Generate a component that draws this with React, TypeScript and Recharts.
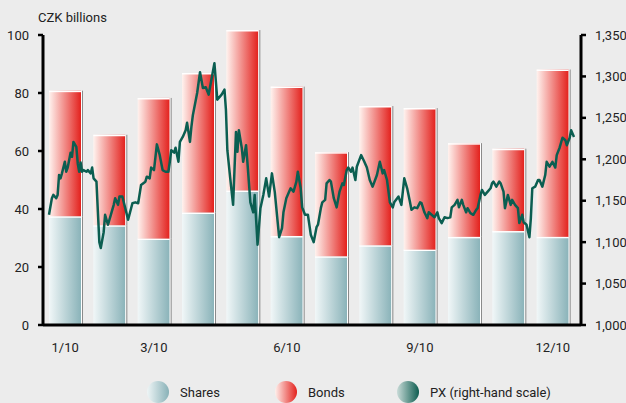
import React from "react";
import { ComposedChart, Bar, Line, XAxis, YAxis } from "recharts";

const months = ["1/10", "2/10", "3/10", "4/10", "5/10", "6/10", "7/10", "8/10", "9/10", "10/10", "11/10", "12/10"];
const labelledMonths = ["1/10", "3/10", "6/10", "9/10", "12/10"];
const shares = [37.5, 34.4, 29.8, 38.8, 46.4, 30.7, 23.7, 27.5, 26.0, 30.4, 32.4, 30.4];
const bonds = [43.3, 31.2, 48.5, 48.1, 55.3, 51.5, 35.9, 48.0, 48.8, 32.3, 28.4, 57.7];

const leftTicks = [0, 20, 40, 60, 80, 100];
const rightTicks = [1000, 1050, 1100, 1150, 1200, 1250, 1300, 1350];

// PX index, day of year -> level
const pxDays = [
  0, 2, 3, 5, 6, 7, 8, 9, 11, 12, 13, 15, 16, 17, 19, 20, 21, 22, 23, 24, 26, 27, 29, 30, 31, 33, 34, 35, 36, 38,
  39, 41, 43, 45, 46, 48, 49, 51, 53, 55, 58, 60, 62, 64, 67, 68, 70, 71, 73, 75, 77, 79, 81, 83, 84, 85, 87, 88,
  90, 91, 93, 95, 96, 98, 99, 100, 103, 105, 107, 109, 111, 115, 117, 120, 122, 123, 124, 126, 128, 130, 131, 132,
  134, 135, 137, 138, 140, 142, 143, 145, 147, 149, 151, 153, 154, 155, 157, 159, 160, 162, 163, 165, 167, 168,
  170, 172, 173, 175, 176, 178, 180, 182, 184, 186, 187, 189, 190, 192, 193, 195, 196, 198, 200, 202, 204, 205,
  207, 208, 210, 211, 213, 214, 217, 219, 221, 223, 225, 228, 230, 232, 233, 235, 237, 239, 240, 243, 245, 247,
  249, 251, 252, 254, 256, 258, 259, 261, 263, 264, 266, 268, 270, 271, 273, 275, 277, 279, 280, 282, 284, 285,
  287, 288, 290, 291, 293, 295, 297, 298, 300, 301, 303, 305, 307, 308, 309, 311, 313, 314, 316, 317, 319, 321,
  322, 324, 326, 327, 329, 330, 332, 334, 335, 336, 338, 340, 341, 343, 345, 346, 348, 350, 352, 353, 355, 357,
  359, 360, 362, 363, 365,
];
const pxValues = [
  1133, 1153, 1157, 1153, 1157, 1181, 1177, 1183, 1197, 1185, 1190, 1208, 1203, 1221, 1215, 1195, 1185, 1196, 1185,
  1187, 1185, 1187, 1183, 1190, 1177, 1173, 1136, 1100, 1093, 1112, 1133, 1121, 1133, 1145, 1153, 1145, 1155, 1155,
  1141, 1127, 1147, 1148, 1147, 1169, 1173, 1179, 1177, 1190, 1187, 1218, 1205, 1187, 1185, 1185, 1197, 1211, 1208,
  1214, 1197, 1221, 1227, 1235, 1244, 1221, 1239, 1253, 1280, 1305, 1286, 1287, 1278, 1316, 1272, 1278, 1284, 1260,
  1211, 1177, 1145, 1233, 1209, 1235, 1214, 1197, 1217, 1195, 1148, 1136, 1157, 1097, 1141, 1157, 1177, 1155, 1169,
  1183, 1160, 1124, 1106, 1117, 1136, 1153, 1161, 1165, 1161, 1173, 1185, 1165, 1142, 1133, 1133, 1109, 1100, 1118,
  1121, 1141, 1148, 1151, 1171, 1175, 1173, 1153, 1142, 1161, 1171, 1169, 1187, 1190, 1185, 1190, 1175, 1191, 1205,
  1198, 1190, 1175, 1167, 1181, 1197, 1183, 1187, 1175, 1148, 1142, 1148, 1155, 1145, 1177, 1165, 1148, 1139, 1142,
  1141, 1148, 1147, 1136, 1129, 1136, 1133, 1130, 1136, 1129, 1123, 1130, 1129, 1130, 1142, 1145, 1151, 1142, 1151,
  1145, 1136, 1141, 1135, 1133, 1139, 1141, 1157, 1163, 1157, 1161, 1165, 1171, 1173, 1167, 1173, 1171, 1161, 1141,
  1157, 1145, 1151, 1145, 1141, 1123, 1133, 1124, 1121, 1106, 1129, 1165, 1167, 1175, 1175, 1167, 1181, 1197, 1191,
  1197, 1190, 1205, 1214, 1226, 1223, 1217, 1226, 1235, 1227,
];

// bonds sit on top of shares: drawn as a [from, to] range bar so the May bar can go past 100
const barData = months.map((m, i) => ({
  month: m,
  shares: shares[i],
  bonds: [shares[i], shares[i] + bonds[i]],
}));
const pxData = pxDays.map((d, i) => ({ day: d, px: pxValues[i] }));

const FONT = "Roboto, 'Open Sans', sans-serif";
const LINE = "#0b5e51";

const barShape = (gradId: string) => (props: any) => {
  const { x, y, width, height } = props;
  if (!height || height <= 0) return <g />;
  return (
    <g>
      <rect x={x} y={y} width={width} height={height} fill={`url(#${gradId})`} />
      <line x1={x} x2={x + width} y1={y + 0.75} y2={y + 0.75} stroke="#fff" strokeWidth={1.5} />
      <line x1={x + width + 0.5} x2={x + width + 0.5} y1={y} y2={y + height} stroke="#fff" strokeWidth={1} />
      <line x1={x + width + 1.5} x2={x + width + 1.5} y1={y} y2={y + height} stroke="#8a8a8a" strokeWidth={1} />
    </g>
  );
};

function LegendItem({ grad, label, left }: { grad: string; label: string; left: number }) {
  return (
    <div style={{ position: "absolute", left, top: 381, display: "flex", alignItems: "center" }}>
      <div style={{ width: 22, height: 22, borderRadius: 11, background: grad }} />
      <span style={{ marginLeft: 11, fontSize: 13, color: "#222" }}>{label}</span>
    </div>
  );
}

export default function App() {
  return (
    <div
      style={{
        position: "fixed",
        left: 0,
        top: 0,
        width: 626,
        height: 403,
        background: "#ececec",
        overflow: "hidden",
        fontFamily: FONT,
      }}
    >
      <style>{`.recharts-wrapper svg g[clip-path] { clip-path: none !important; }`}</style>
      <div style={{ position: "absolute", left: 38, top: 10, fontSize: 13, color: "#222" }}>CZK billions</div>
      <ComposedChart width={626} height={403} data={barData} margin={{ top: 35, right: 0, bottom: 48, left: 0 }}>
        <defs>
          <linearGradient id="gShares" x1="0" y1="0" x2="1" y2="0">
            <stop offset="0%" stopColor="#f1f7f8" />
            <stop offset="100%" stopColor="#8ab3b9" />
          </linearGradient>
          <linearGradient id="gBonds" x1="0" y1="0" x2="1" y2="0">
            <stop offset="0%" stopColor="#fff3ef" />
            <stop offset="100%" stopColor="#e3211d" />
          </linearGradient>
        </defs>
        <XAxis
          xAxisId="month"
          dataKey="month"
          interval={0}
          padding={{ left: 0, right: 6 }}
          axisLine={{ stroke: "#000", strokeWidth: 3 }}
          tickLine={false}
          tickSize={6}
          tickMargin={12}
          height={30}
          tick={{ fill: "#222", fontSize: 13, fontFamily: FONT }}
          tickFormatter={(v: string) => (labelledMonths.includes(v) ? v : "")}
        />
        <XAxis xAxisId="month2" dataKey="month" hide orientation="top" height={0} padding={{ left: 0, right: 6 }} />
        <XAxis
          xAxisId="day"
          type="number"
          dataKey="day"
          domain={[0, 365]}
          hide
          orientation="top"
          height={0}
          padding={{ left: 6, right: 7 }}
        />
        <YAxis
          yAxisId="left"
          width={43}
          domain={[0, 100]}
          allowDataOverflow
          ticks={leftTicks}
          axisLine={{ stroke: "#000", strokeWidth: 3 }}
          tickLine={{ stroke: "#000", strokeWidth: 2.5 }}
          tickSize={5}
          tickMargin={9}
          tick={{ fill: "#222", fontSize: 13, fontFamily: FONT }}
        />
        <YAxis
          yAxisId="right"
          orientation="right"
          width={45}
          domain={[1000, 1350]}
          ticks={rightTicks}
          axisLine={{ stroke: "#000", strokeWidth: 3 }}
          tickLine={{ stroke: "#000", strokeWidth: 2.5 }}
          tickSize={5}
          tickMargin={9}
          tick={{ fill: "#222", fontSize: 13, fontFamily: FONT, textAnchor: "start" }}
          tickFormatter={(v: number) => v.toLocaleString("en-US")}
        />
        <Bar
          xAxisId="month"
          yAxisId="left"
          dataKey="shares"
          barSize={32}
          shape={barShape("gShares")}
          isAnimationActive={false}
        />
        <Bar
          xAxisId="month2"
          yAxisId="left"
          dataKey="bonds"
          barSize={32}
          shape={barShape("gBonds")}
          isAnimationActive={false}
        />
        <Line
          xAxisId="day"
          yAxisId="right"
          data={pxData}
          dataKey="px"
          type="linear"
          stroke={LINE}
          strokeWidth={2.5}
          strokeLinejoin="round"
          dot={false}
          activeDot={false}
          isAnimationActive={false}
        />
      </ComposedChart>
      <LegendItem grad="linear-gradient(to right, #eef5f6, #88b1b7)" label="Shares" left={147} />
      <LegendItem grad="linear-gradient(to right, #fff0ec, #e3211d)" label="Bonds" left={275} />
      <LegendItem grad="linear-gradient(to right, #c9dbd8, #0d5d50)" label="PX (right-hand scale)" left={397} />
    </div>
  );
}
